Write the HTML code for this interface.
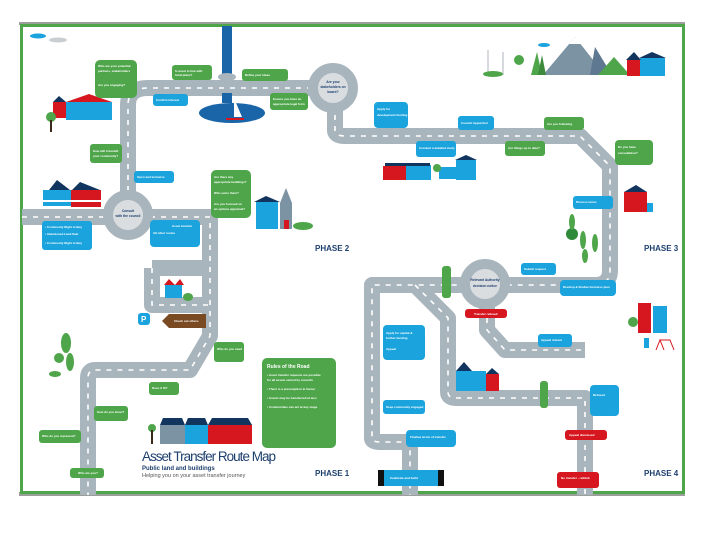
<!DOCTYPE html>
<html><head><meta charset="utf-8"><style>
html,body{margin:0;padding:0;background:#fff}
svg{display:block}
text{font-family:"Liberation Sans",sans-serif}
</style></head><body>
<svg width="720" height="540" viewBox="0 0 720 540" xmlns="http://www.w3.org/2000/svg">
<rect width="720" height="540" fill="#fff"/>
<rect x="19" y="22" width="666" height="3" fill="#9a9f9a"/>
<rect x="19" y="492" width="666" height="4" fill="#9a9f9a"/>
<rect x="21.5" y="25.5" width="662" height="467" fill="none" stroke="#4ea54a" stroke-width="3"/>

<g fill="none" stroke="#a9b5bd" stroke-width="16" stroke-linejoin="round">
<path d="M22 217 H128 V105 Q128 88 148 88 H335 V130 Q335 136 345 136 H580 L610 166 V270 Q610 285 595 285 H372 V438 Q372 442 380 442 H410 V495"/>
<path d="M128 217 H210 V336 L190 370 H95 Q88 370 88 378 V495"/>
<path d="M152 268 V305 H210 M152 268 H210"/>
<path d="M415 285 L448 318 V392 Q448 398 456 398 H585 V495"/>
<path d="M487 285 V330 L505 350 H585"/>
</g>
<g fill="none" stroke="#fff" stroke-width="1.6" stroke-dasharray="5 6">
<path d="M22 217 H128 V105 Q128 88 148 88 H335 V130 Q335 136 345 136 H580 L610 166 V270 Q610 285 595 285 H372 V438 Q372 442 380 442 H410 V495"/>
<path d="M128 217 H210 V336 L190 370 H95 Q88 370 88 378 V495"/>
<path d="M152 268 V305 H210"/>
<path d="M415 285 L448 318 V392 Q448 398 456 398 H585 V495"/>
<path d="M487 285 V330 L505 350 H585"/>
</g>
<g fill="#d9dde0" stroke="#a9b5bd" stroke-width="10">
<circle cx="128" cy="215" r="20"/>
<circle cx="333" cy="88" r="20"/>
<circle cx="485" cy="284" r="20"/>
</g>
<g font-size="3.3" text-anchor="middle" fill="#1d3f6e" font-weight="bold">
<text x="128" y="212">Consult</text><text x="128" y="217">with the council</text>
<text x="333" y="83">Are your</text><text x="333" y="88">stakeholders on</text><text x="333" y="93">board?</text>
<text x="485" y="281">Relevant Authority</text><text x="485" y="287">decision notice</text>
</g>

<rect x="222" y="26" width="10" height="50" fill="#1a64a8"/>
<ellipse cx="227" cy="77" rx="9" ry="4" fill="#a9b5bd"/>
<rect x="222" y="93" width="10" height="10" fill="#1a64a8"/>
<ellipse cx="232" cy="113" rx="33" ry="10" fill="#1a64a8"/>
<path d="M234 98 L234 117 L242 117 Z" fill="#fff"/>
<rect x="226" y="118" width="18" height="2" fill="#d6171f"/>

<ellipse cx="38" cy="36" rx="8" ry="2.5" fill="#1aa3dc"/>
<ellipse cx="58" cy="40" rx="9" ry="2.5" fill="#c9ced2"/>
<ellipse cx="544" cy="45" rx="6" ry="2" fill="#1aa3dc"/>

<polygon points="543,75 575,37 605,75" fill="#7c93a4"/>
<polygon points="575,37 581,44 569,44" fill="#fff"/>
<polygon points="590,75 595,47 612,75" fill="#5d7890"/>
<polygon points="598,75 614,57 630,75" fill="#4ea54a"/>
<line x1="488" y1="75" x2="488" y2="50" stroke="#c9ced2" stroke-width="1.5"/>
<line x1="503" y1="75" x2="503" y2="52" stroke="#c9ced2" stroke-width="1.5"/>
<ellipse cx="493" cy="74" rx="10" ry="3" fill="#4ea54a"/>
<circle cx="519" cy="60" r="5" fill="#4ea54a"/>
<polygon points="531,75 537,52 542,75" fill="#4ea54a"/>
<polygon points="538,75 542,55 546,75" fill="#3d8a3c"/>
<rect x="627" y="60" width="13" height="16" fill="#d6171f"/>
<rect x="640" y="58" width="25" height="18" fill="#1aa3dc"/>
<polygon points="626,60 634,52 641,60" fill="#12355f"/>
<polygon points="639,58 652,52 666,58" fill="#12355f"/>

<rect x="53" y="102" width="13" height="16" fill="#d6171f"/>
<rect x="66" y="102" width="46" height="18" fill="#1aa3dc"/>
<polygon points="53,102 59,96 66,102" fill="#12355f"/>
<polygon points="66,102 89,94 112,102" fill="#d6171f"/>
<circle cx="51" cy="117" r="5" fill="#4ea54a"/>
<rect x="50" y="120" width="2" height="12" fill="#3a2a1a"/>

<rect x="43" y="190" width="28" height="16" fill="#1aa3dc"/>
<rect x="71" y="190" width="30" height="17" fill="#d6171f"/>
<polygon points="49,190 57,180 70,190" fill="#12355f"/>
<polygon points="72,190 80,182 100,190" fill="#12355f"/>
<rect x="43" y="200" width="58" height="2" fill="#fff"/>
<rect x="256" y="202" width="22" height="27" fill="#1aa3dc"/>
<polygon points="254,202 266,196 280,202" fill="#12355f"/>
<rect x="280" y="203" width="12" height="26" fill="#7c93a4"/>
<polygon points="280,203 286,188 292,203" fill="#7c93a4"/>
<rect x="284" y="220" width="5" height="9" fill="#d6171f"/>
<ellipse cx="303" cy="226" rx="10" ry="4" fill="#4ea54a"/>

<rect x="383" y="166" width="23" height="14" fill="#d6171f"/>
<rect x="406" y="165" width="25" height="15" fill="#1aa3dc"/>
<rect x="385" y="163" width="45" height="3" fill="#12355f"/>
<rect x="439" y="167" width="18" height="12" fill="#1aa3dc"/>
<rect x="456" y="160" width="20" height="20" fill="#1aa3dc"/>
<polygon points="455,160 466,155 477,160" fill="#12355f"/>
<circle cx="437" cy="168" r="4" fill="#4ea54a"/>
<rect x="624" y="192" width="23" height="20" fill="#d6171f"/>
<polygon points="624,192 636,185 647,192" fill="#12355f"/>
<rect x="647" y="203" width="6" height="9" fill="#1aa3dc"/>
<circle cx="572" cy="234" r="6" fill="#2f8a3a"/>
<ellipse cx="572" cy="222" rx="3" ry="8" fill="#4ea54a"/>
<ellipse cx="583" cy="240" rx="3" ry="9" fill="#4ea54a"/>
<ellipse cx="595" cy="243" rx="3" ry="9" fill="#4ea54a"/>
<ellipse cx="585" cy="256" rx="3" ry="7" fill="#4ea54a"/>
<rect x="638" y="303" width="13" height="30" fill="#d6171f"/>
<rect x="653" y="306" width="14" height="27" fill="#1aa3dc"/>
<circle cx="633" cy="322" r="5" fill="#4ea54a"/>
<rect x="644" y="338" width="5" height="10" fill="#1aa3dc"/>
<path d="M656 350 L660 340 L664 350 M660 340 L670 340 L674 350" stroke="#d6171f" fill="none" stroke-width="1"/>
<rect x="165" y="285" width="17" height="13" fill="#1aa3dc"/>
<polygon points="164,285 169,279 175,285 180,279 184,285" fill="#d6171f"/>
<ellipse cx="188" cy="297" rx="5" ry="4" fill="#4ea54a"/>
<rect x="456" y="371" width="30" height="20" fill="#1aa3dc"/>
<polygon points="456,371 464,362 472,371" fill="#12355f"/>
<rect x="486" y="374" width="13" height="17" fill="#d6171f"/>
<polygon points="486,374 492,368 499,374" fill="#12355f"/>
<ellipse cx="66" cy="343" rx="5" ry="10" fill="#4ea54a"/>
<circle cx="59" cy="358" r="5" fill="#4ea54a"/>
<ellipse cx="70" cy="362" rx="4" ry="9" fill="#4ea54a"/>
<ellipse cx="55" cy="374" rx="6" ry="3" fill="#4ea54a"/>
<circle cx="152" cy="428" r="4" fill="#4ea54a"/>
<rect x="151" y="430" width="2" height="14" fill="#3a2a1a"/>
<rect x="160" y="425" width="25" height="19" fill="#7c93a4"/>
<rect x="185" y="425" width="23" height="19" fill="#1aa3dc"/>
<rect x="208" y="425" width="44" height="19" fill="#d6171f"/>
<polygon points="160,425 163,418 182,418 185,425" fill="#12355f"/>
<polygon points="185,425 188,418 205,418 208,425" fill="#12355f"/>
<polygon points="208,425 212,418 248,418 252,425" fill="#12355f"/>

<text x="142" y="461" font-size="13.5" fill="#1d3f6e" textLength="134">Asset Transfer Route Map</text>
<text x="142" y="470" font-size="6" font-weight="bold" fill="#1d3f6e">Public land and buildings</text>
<text x="142" y="477" font-size="5.5" fill="#555">Helping you on your asset transfer journey</text>
<g font-size="8" font-weight="bold" fill="#1d3f6e">
<text x="315" y="251">PHASE 2</text>
<text x="644" y="251">PHASE 3</text>
<text x="315" y="476">PHASE 1</text>
<text x="644" y="476">PHASE 4</text>
</g>

<g font-size="3" font-weight="bold" fill="#fff">
<rect x="95" y="60" width="42" height="38" rx="5" fill="#4ea54a"/><text x="98" y="67">Who are your potential</text><text x="98" y="72">partners, stakeholders</text><text x="98" y="86">Are you engaging?</text>
<rect x="172" y="65" width="40" height="15" rx="3" fill="#4ea54a"/><text x="175" y="72">Is asset in line with</text><text x="175" y="76">local plans?</text>
<rect x="153" y="94" width="35" height="12" rx="3" fill="#1aa3dc"/><text x="156" y="101">Confirm interest</text>
<rect x="242" y="69" width="46" height="12" rx="3" fill="#4ea54a"/><text x="245" y="76">Refine your ideas</text>
<rect x="270" y="93" width="38" height="17" rx="3" fill="#4ea54a"/><text x="273" y="100">Ensure you have an</text><text x="273" y="105">appropriate legal form</text>
<rect x="90" y="144" width="32" height="19" rx="3" fill="#4ea54a"/><text x="93" y="152">How will it benefit</text><text x="93" y="157">your community?</text>
<rect x="134" y="171" width="40" height="12" rx="3" fill="#1aa3dc"/><text x="137" y="178">Open and inclusive</text>
<rect x="211" y="170" width="40" height="48" rx="5" fill="#4ea54a"/><text x="214" y="178">Are there any</text><text x="214" y="183">appropriate buildings?</text><text x="214" y="194">Who owns them?</text><text x="214" y="205">Are you focused on</text><text x="214" y="210">an options appraisal?</text>
<rect x="42" y="221" width="50" height="29" rx="3" fill="#1aa3dc"/><text x="45" y="228">• Community Right to Buy</text><text x="45" y="235">• Abandoned Land Sale</text><text x="45" y="244">• Community Right to Buy</text>
<rect x="150" y="220" width="50" height="27" rx="4" fill="#1aa3dc"/><text x="172" y="227">Asset transfer</text><text x="153" y="234">All other routes</text>
<rect x="374" y="102" width="34" height="26" rx="4" fill="#1aa3dc"/><text x="377" y="110">Apply for</text><text x="377" y="116">development funding</text>
<rect x="458" y="116" width="36" height="14" rx="3" fill="#1aa3dc"/><text x="461" y="124">Council Appointed</text>
<rect x="544" y="117" width="40" height="13" rx="3" fill="#4ea54a"/><text x="547" y="125">Are you following</text>
<rect x="416" y="141" width="40" height="16" rx="3" fill="#1aa3dc"/><text x="419" y="149">Conduct a detailed study</text>
<rect x="505" y="141" width="40" height="15" rx="3" fill="#4ea54a"/><text x="508" y="149">Are things up to date?</text>
<rect x="615" y="140" width="38" height="25" rx="4" fill="#4ea54a"/><text x="618" y="148">Do you have</text><text x="618" y="154">consultation?</text>
<rect x="573" y="196" width="40" height="13" rx="3" fill="#1aa3dc"/><text x="576" y="203">Discuss terms</text>
<rect x="521" y="263" width="35" height="12" rx="3" fill="#1aa3dc"/><text x="524" y="270">Submit request</text>
<rect x="560" y="280" width="56" height="16" rx="4" fill="#1aa3dc"/><text x="563" y="288">Develop &amp; finalise business plan</text>
<rect x="138" y="313" width="12" height="12" rx="3" fill="#1aa3dc"/><text x="141" y="322" font-size="8">P</text>
<polygon points="162,321 169,314 206,314 206,328 169,328" fill="#7a4a22"/><text x="174" y="322">Check out others</text>
<rect x="214" y="342" width="30" height="20" rx="3" fill="#4ea54a"/><text x="217" y="350">Who do you need</text>
<rect x="262" y="358" width="74" height="90" rx="5" fill="#4ea54a"/><text x="267" y="368" font-size="5">Rules of the Road</text><text x="267" y="376">• Asset transfer requests are possible</text><text x="267" y="381">for all assets owned by councils</text><text x="267" y="390">• There is a presumption in favour</text><text x="267" y="399">• Assets may be transferred at less</text><text x="267" y="408">• Communities can act at any stage</text>
<rect x="149" y="382" width="30" height="13" rx="3" fill="#4ea54a"/><text x="152" y="389">Does it fit?</text>
<rect x="94" y="406" width="34" height="15" rx="3" fill="#4ea54a"/><text x="97" y="413">How do you know?</text>
<rect x="39" y="430" width="42" height="13" rx="3" fill="#4ea54a"/><text x="42" y="437">Who do you represent?</text>
<rect x="70" y="468" width="34" height="10" rx="3" fill="#4ea54a"/><text x="78" y="474">Who are you?</text>
<rect x="442" y="266" width="9" height="32" rx="3" fill="#4ea54a"/>
<rect x="465" y="309" width="42" height="9" rx="3" fill="#d6171f"/><text x="474" y="315">Transfer refused</text>
<rect x="383" y="325" width="42" height="35" rx="4" fill="#1aa3dc"/><text x="386" y="334">Apply for capital &amp;</text><text x="386" y="339">further funding</text><text x="386" y="350">Appeal</text>
<rect x="538" y="334" width="34" height="13" rx="3" fill="#1aa3dc"/><text x="541" y="341">Appeal refusal</text>
<rect x="383" y="400" width="42" height="14" rx="3" fill="#1aa3dc"/><text x="386" y="408">Keep community engaged</text>
<rect x="540" y="381" width="8" height="27" rx="3" fill="#4ea54a"/>
<rect x="590" y="385" width="29" height="31" rx="4" fill="#1aa3dc"/><text x="593" y="396">Refused</text>
<rect x="406" y="430" width="50" height="17" rx="4" fill="#1aa3dc"/><text x="410" y="438">Finalise terms of transfer</text>
<rect x="565" y="430" width="42" height="10" rx="3" fill="#d6171f"/><text x="569" y="436">Appeal dismissed</text>
<rect x="378" y="470" width="66" height="16" fill="#111"/><rect x="384" y="470" width="54" height="16" fill="#1aa3dc"/><text x="390" y="479">Celebrate and build</text>
<rect x="557" y="472" width="42" height="16" rx="3" fill="#d6171f"/><text x="561" y="479">No transfer - rethink</text>
</g>
</svg>
</body></html>
